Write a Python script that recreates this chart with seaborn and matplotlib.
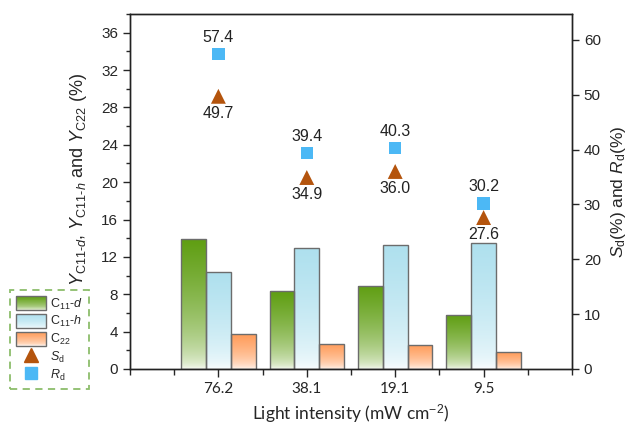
import numpy as np
import pandas as pd
import matplotlib
matplotlib.use("Agg")
import matplotlib.pyplot as plt
from matplotlib.patches import Rectangle, Patch
from matplotlib.lines import Line2D
from matplotlib.legend_handler import HandlerBase
from matplotlib.colors import to_rgb
from matplotlib.ticker import MultipleLocator
import seaborn as sns

# ---- data -------------------------------------------------------------
intensity = ["76.2", "38.1", "19.1", "9.5"]
y_c11_d = [13.9, 8.3, 8.9, 5.8]
y_c11_h = [10.4, 12.9, 13.3, 13.5]
y_c22 = [3.7, 2.7, 2.6, 1.8]
s_d = [49.7, 34.9, 36.0, 27.6]
r_d = [57.4, 39.4, 40.3, 30.2]

series_names = ["C11-d", "C11-h", "C22"]
series_labels = [r"C$_{11}$-$d$", r"C$_{11}$-$h$", r"C$_{22}$"]
top_colors = ["#5f9e12", "#aee0ee", "#ff9c5a"]
edge_color = "#6c6c6c"
sd_color = "#b4540d"
rd_color = "#4cb8f5"
frame_color = "#70ad47"
GAMMA = 0.5

# ---- style ------------------------------------------------------------
sns.set_style("ticks")
plt.rcParams["font.family"] = ["Liberation Sans", "DejaVu Sans"]
plt.rcParams["mathtext.fontset"] = "custom"
plt.rcParams["mathtext.rm"] = "Liberation Sans"
plt.rcParams["mathtext.it"] = "Liberation Sans:italic"
plt.rcParams["mathtext.bf"] = "Liberation Sans:bold"

df = pd.DataFrame({
    "intensity": intensity * 3,
    "series": np.repeat(series_names, len(intensity)),
    "value": y_c11_d + y_c11_h + y_c22,
})

fig = plt.figure(figsize=(6.3, 4.29), dpi=100)
ax = fig.add_axes([130 / 630, 1 - 369 / 429, 442 / 630, 355 / 429])

sns.barplot(data=df, x="intensity", y="value", hue="series",
            order=intensity, hue_order=series_names, width=0.84, gap=0,
            legend=False, ax=ax, edgecolor=edge_color, linewidth=1.0,
            saturation=1)


def blend(color, f):
    c = np.array(to_rgb(color))
    return (1 - f) * np.ones(3) + f * c


def gradient_array(color, n=256):
    t = np.linspace(0, 1, n) ** GAMMA
    rgb = np.array([blend(color, f) for f in t])
    return rgb[:, None, :]


# vertical white-to-colour fill inside every bar
for container, color in zip(ax.containers, top_colors):
    grad = gradient_array(color)
    for bar in container:
        bar.set_facecolor("none")
        x0, w, h = bar.get_x(), bar.get_width(), bar.get_height()
        im = ax.imshow(grad, extent=[x0, x0 + w, 0, h], origin="lower",
                       aspect="auto", zorder=bar.get_zorder() - 0.1,
                       interpolation="bilinear")
        im.set_clip_path(bar)

ax.set_xlim(-1, 4)
ax.set_ylim(0, 38)
ax.yaxis.set_major_locator(MultipleLocator(4))
ax.yaxis.set_minor_locator(MultipleLocator(2))
ax.xaxis.set_minor_locator(MultipleLocator(0.5))
ax.set_xticks(range(len(intensity)))
ax.set_xticklabels(intensity, family="Lato", fontsize=11)
ax.tick_params(axis="y", labelsize=11, length=5, width=1, direction="out")
ax.tick_params(axis="y", which="minor", length=3, width=1)
ax.tick_params(axis="x", which="major", length=5.5, width=1, pad=4)
ax.tick_params(axis="x", which="minor", length=4, width=1)
ax.set_xlabel(r"Light intensity (mW cm$^{-2}$)", family="Lato",
              fontsize=12.5, labelpad=4)
ax.set_ylabel(r"$Y_{\mathrm{C11}\text{-}d}$, $Y_{\mathrm{C11}\text{-}h}$ and $Y_{\mathrm{C22}}$ (%)",
              fontsize=13)
ax.yaxis.set_label_coords(-0.093, 0.535)
for sp in ax.spines.values():
    sp.set_visible(True)
    sp.set_linewidth(1.0)
    sp.set_color("#222222")

# ---- right axis: selectivity and ratio -------------------------------
ax2 = ax.twinx()
pos = np.arange(len(intensity))
sns.scatterplot(x=pos, y=s_d, marker="^", s=115, color=sd_color,
                edgecolor="none", ax=ax2, zorder=5)
sns.scatterplot(x=pos, y=r_d, marker="s", s=80, color=rd_color,
                edgecolor="none", ax=ax2, zorder=5)
for xp, v in zip(pos, r_d):
    ax2.annotate(f"{v:.1f}", (xp, v), xytext=(0, 12), textcoords="offset points",
                 ha="center", va="center", fontsize=11.5, color="#222222")
for xp, v in zip(pos, s_d):
    ax2.annotate(f"{v:.1f}", (xp, v), xytext=(0, -12.5), textcoords="offset points",
                 ha="center", va="center", fontsize=11.5, color="#222222")

ax2.set_ylim(0, 64.7)
ax2.yaxis.set_major_locator(MultipleLocator(10))
ax2.tick_params(axis="y", labelsize=11, length=5, width=1, direction="out")
ax2.set_ylabel(r"$S_\mathrm{d}$(%) and $R_\mathrm{d}$(%)", fontsize=12.5, labelpad=6)
ax2.set_xlim(-1, 4)
for sp in ax2.spines.values():
    sp.set_linewidth(1.0)
    sp.set_color("#222222")


# ---- legend with gradient swatches -----------------------------------
class GradientSwatch(HandlerBase):
    def __init__(self, color, steps=30):
        super().__init__()
        self.color = color
        self.steps = steps

    def create_artists(self, legend, orig_handle, xdescent, ydescent,
                       width, height, fontsize, trans):
        artists = []
        x0, y0 = -xdescent, -ydescent
        dh = height / self.steps
        for i in range(self.steps):
            f = ((i + 0.5) / self.steps) ** GAMMA
            artists.append(Rectangle((x0, y0 + i * dh), width, dh * 1.05,
                                     facecolor=blend(self.color, f),
                                     edgecolor="none", transform=trans))
        artists.append(Rectangle((x0, y0), width, height, facecolor="none",
                                 edgecolor=edge_color, linewidth=1.0,
                                 transform=trans))
        return artists


bar_handles = [Patch(label=lab) for lab in series_labels]
handler_map = {h: GradientSwatch(c) for h, c in zip(bar_handles, top_colors)}
sd_handle = Line2D([], [], marker="^", color=sd_color, linestyle="none",
                   markersize=10, label=r"$S_\mathrm{d}$")
rd_handle = Line2D([], [], marker="s", color=rd_color, linestyle="none",
                   markersize=8.5, label=r"$R_\mathrm{d}$")

leg = fig.legend(handles=bar_handles + [sd_handle, rd_handle],
                 handler_map=handler_map, loc="upper left",
                 bbox_to_anchor=(10 / 630, 1 - 290 / 429),
                 bbox_transform=fig.transFigure, fontsize=9,
                 handlelength=2.4, handleheight=1.35, handletextpad=0.3,
                 labelspacing=0.2, borderpad=0.5, borderaxespad=0,
                 fancybox=False, frameon=True)
frame = leg.get_frame()
frame.set_edgecolor(frame_color)
frame.set_linestyle((0, (4, 3)))
frame.set_linewidth(1.3)

fig.savefig("out.png", dpi=100)
